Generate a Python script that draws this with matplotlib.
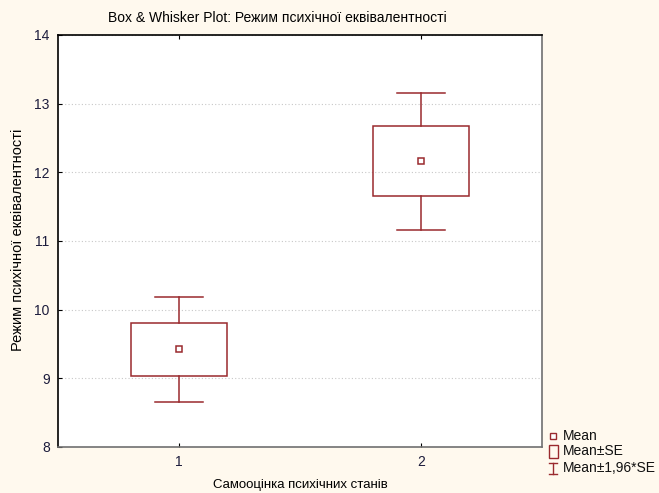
import matplotlib
matplotlib.use("Agg")
import matplotlib.pyplot as plt
from matplotlib.patches import Rectangle
from matplotlib.lines import Line2D

plt.rcParams['font.family'] = ['Liberation Sans Narrow', 'Liberation Sans', 'DejaVu Sans']

# дані
categories = [1, 2]
means = [9.42, 12.16]
se = [0.39, 0.51]
ci_factor = 1.96

title = 'Box & Whisker Plot: Режим психічної еквівалентності'
ylabel = 'Режим психічної еквівалентності'
xlabel = 'Самооцінка психічних станів'
legend_labels = ['Mean', 'Mean±SE', 'Mean±1,96*SE']

bg = '#fff9ee'
red = '#9a2a2e'
tick_col = '#1c1c3c'

fig = plt.figure(figsize=(6.59, 4.93), dpi=100, facecolor=bg)
ax = fig.add_axes([58 / 659, 46 / 493, 484 / 659, 412 / 493])
ax.set_facecolor('white')

box_w = 0.4
cap_w = 0.2
lw = 1.1
for x, m, s in zip(categories, means, se):
    lo, hi = m - ci_factor * s, m + ci_factor * s
    ax.add_patch(Rectangle((x - box_w / 2, m - s), box_w, 2 * s,
                           fill=False, edgecolor=red, lw=lw, zorder=3))
    ax.plot([x, x], [m + s, hi], color=red, lw=lw, zorder=3)
    ax.plot([x, x], [lo, m - s], color=red, lw=lw, zorder=3)
    ax.plot([x - cap_w / 2, x + cap_w / 2], [hi, hi], color=red, lw=lw, zorder=3)
    ax.plot([x - cap_w / 2, x + cap_w / 2], [lo, lo], color=red, lw=lw, zorder=3)
    ax.plot([x], [m], marker='s', ms=5, mfc='white', mec=red, mew=1.1, zorder=4)

ax.set_xlim(0.5, 2.5)
ax.set_ylim(8, 14)
ax.set_xticks(categories)
ax.set_yticks(range(8, 15))
ax.yaxis.grid(True, linestyle=(0, (1, 2)), color='#c8c8c8', lw=0.8)
ax.set_axisbelow(True)
ax.tick_params(direction='in', length=3, labelsize=10, labelcolor=tick_col,
               top=True, right=False, color='black', pad=6)
ax.spines['left'].set_color('black')
ax.spines['top'].set_color('black')
ax.spines['right'].set_color('#707070')
ax.spines['bottom'].set_color('#707070')
for sp in ax.spines.values():
    sp.set_linewidth(1.2)

fig.text(277 / 659, 1 - 18 / 493, title, ha='center', va='center', fontsize=10)
fig.text(18 / 659, 1 - 240 / 493, ylabel, ha='center', va='center', rotation=90, fontsize=10.5)
fig.text(300 / 659, 1 - 485 / 493, xlabel, ha='center', va='center', fontsize=9.5)

# легенда
lx = 553 / 659
fig.add_artist(Line2D([lx], [1 - 436 / 493], marker='s', ms=4.5, mfc='white',
                      mec=red, mew=1.0, transform=fig.transFigure))
fig.add_artist(Rectangle((549 / 659, 1 - 458 / 493), 9 / 659, 13 / 493, fill=False,
                         edgecolor=red, lw=1.0, transform=fig.transFigure))
fig.add_artist(Line2D([lx, lx], [1 - 463 / 493, 1 - 474 / 493], color=red, lw=1.0,
                      transform=fig.transFigure))
for yy in (463, 474):
    fig.add_artist(Line2D([549 / 659, 557 / 659], [1 - yy / 493, 1 - yy / 493], color=red,
                          lw=1.0, transform=fig.transFigure))
for lab, yy in zip(legend_labels, (436, 451, 468)):
    fig.text(563 / 659, 1 - yy / 493, lab, ha='left', va='center', fontsize=10, color='#111111')

fig.savefig('out.png', dpi=100, facecolor=bg)
